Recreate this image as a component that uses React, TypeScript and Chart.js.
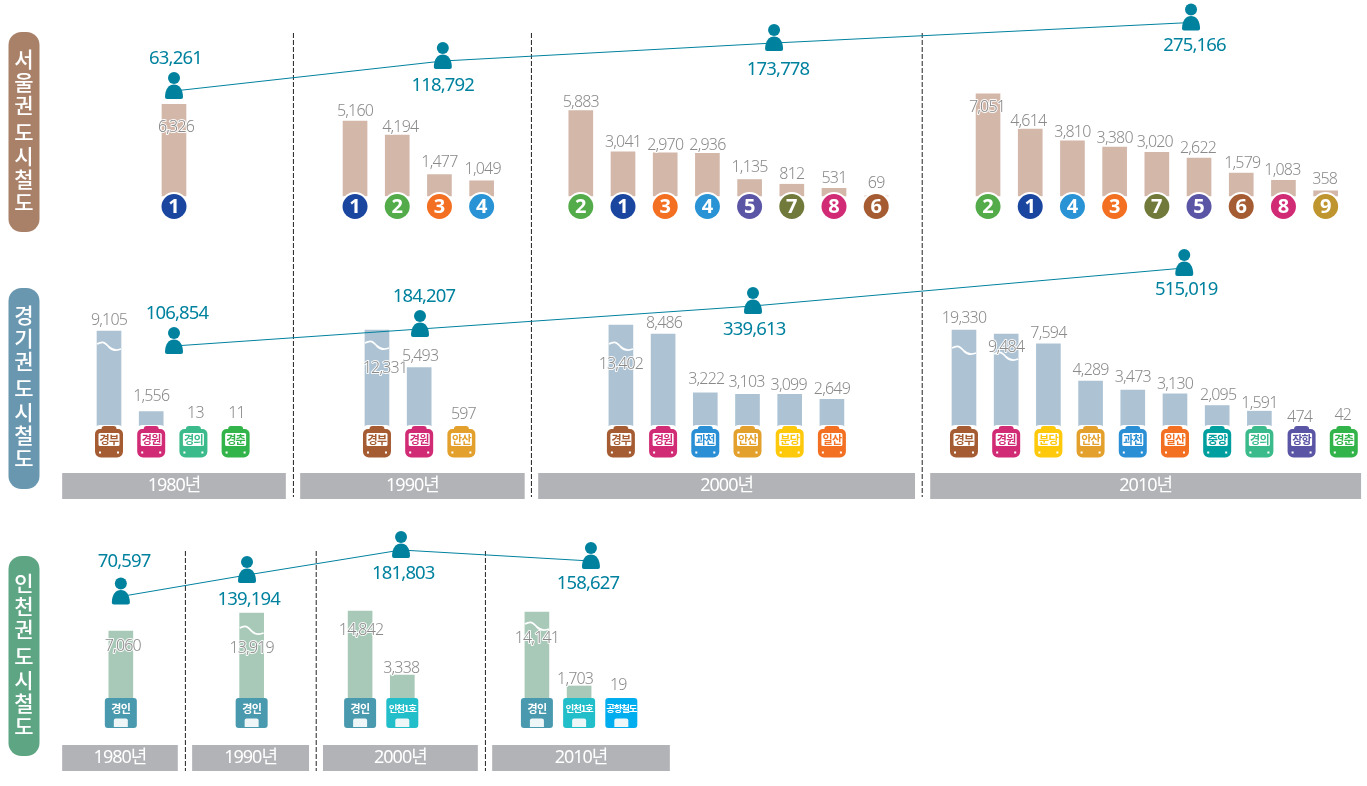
import React, { useEffect, useRef } from "react";
import { Chart, registerables } from "chart.js";

Chart.register(...registerables);

// ---------- data ----------
const seoulStops = ["1", "1", "2", "3", "4", "2", "1", "3", "4", "5", "7", "8", "6", "2", "1", "4", "3", "7", "5", "6", "8", "9"];
const seoulDecades = [0, 1, 1, 1, 1, 2, 2, 2, 2, 2, 2, 2, 2, 3, 3, 3, 3, 3, 3, 3, 3, 3];
const seoulValues = [6326, 5160, 4194, 1477, 1049, 5883, 3041, 2970, 2936, 1135, 812, 531, 69, 7051, 4614, 3810, 3380, 3020, 2622, 1579, 1083, 358];
// Height actually drawn: in the picture the smallest bar is hidden behind its marker
const seoulDrawn = [6326, 5160, 4194, 1477, 1049, 5883, 3041, 2970, 2936, 1135, 812, 531, 0, 7051, 4614, 3810, 3380, 3020, 2622, 1579, 1083, 358];

const gyeonggiStops = ["경부", "경원", "경의", "경춘", "경부", "경원", "안산", "경부", "경원", "과천", "안산", "분당", "일산", "경부", "경원", "분당", "안산", "과천", "일산", "중앙", "경의", "장항", "경춘"];
const gyeonggiDecades = [0, 0, 0, 0, 1, 1, 1, 2, 2, 2, 2, 2, 2, 3, 3, 3, 3, 3, 3, 3, 3, 3, 3];
const gyeonggiValues = [9105, 1556, 13, 11, 12331, 5493, 597, 13402, 8486, 3222, 3103, 3099, 2649, 19330, 9484, 7594, 4289, 3473, 3130, 2095, 1591, 474, 42];
// Height actually drawn: the tall bars are cut by a wave in the picture, small ones hidden
const gyeonggiDrawn = [8750, 1556, 0, 0, 8840, 5493, 0, 9286, 8486, 3222, 3103, 3099, 2649, 8840, 8482, 7594, 4289, 3473, 3130, 2095, 1591, 0, 0];

const incheonStops = ["경인", "경인", "경인", "인천1호", "경인", "인천1호", "공항철도"];
const incheonDecades = [0, 1, 2, 2, 3, 3, 3];
const incheonValues = [7060, 13919, 14842, 3338, 14141, 1703, 19];
const incheonDrawn = [7060, 8600, 8770, 3338, 8686, 2415, 19];

const seoulRiders = [63261, 118792, 173778, 275166];
const gyeonggiRiders = [106854, 184207, 339613, 515019];
const incheonRiders = [70597, 139194, 181803, 158627];
// Drawn heights of the rider trend
const seoulTrendLevels = [695, 725, 743, 763.5];
const gyeonggiTrendLevels = [440, 457, 480, 518];
const incheonTrendLevels = [189.5, 211, 236, 225];

const decadeLabels = ["1980년", "1990년", "2000년", "2010년"];
const rowTitles = ["서울권 도시철도", "경기권 도시철도", "인천권 도시철도"];

// ---------- layout and style ----------
const W = 1367;
const H = 786;
const SLOT_PX = 42.2;
const ORIGIN_PX = 174;
const seoulStarts = [0, 4.29, 9.64, 19.29];
const gyeonggiStarts = [-1.54, 4.81, 10.59, 18.72];
const incheonStarts = [-1.26, 1.84, 4.41, 8.6];
const seoulTrendX = [0, 6.37, 14.22, 24.1];
const gyeonggiTrendX = [0, 5.83, 13.72, 23.94];
const incheonTrendX = [-1.26, 1.73, 5.38, 9.88];
const upperDividers = [2.83, 8.47, 17.73];
const lowerDividers = [0.27, 3.37, 7.38];
const upperBands = [[-2.65, 2.65], [2.99, 8.31], [8.63, 17.56], [17.92, 28.13]];
const lowerBands = [[-2.65, 0.09], [0.43, 3.2], [3.53, 7.2], [7.54, 11.75]];

const seoulDx = [2, 0, 3, 0, 1, 0, 0, 0, 0, 0, 0, 0, 0, -1, -2, 0, 0, -2, -1, 1, -1, -1];
const seoulDy = [23, -9.5, -8, -12.5, -11, -8, -9.5, -7.5, -8, -12, -10, -10, -13, 14, -8, -8, -8.7, -10, -10, -9.5, -9.5, -11.5];
const gyeonggiDx = [0, 0, 2, 1, 8, 1, 2, 0, 1, 1, -1, -1, 0, 0, 0, 0, 0, 0, 0, 1, 0, -2, -1];
const gyeonggiDy = [-11, -15, -16, -16, 38, -11.5, -15, 39, -11, -13, -11.5, -9, -10, -12, 13, -11, -11, -13, -10, -10.5, -8, -12, -14];
const incheonDx = [2, 0, 1, -1, 0, -4, -3];
const incheonDy = [15, 35, 19, -7, 26, -7, -29];

const gyeonggiWaves: Record<number, number> = { 0: 12, 4: 12, 7: 18, 13: 17, 14: 19 };
const incheonWaves: Record<number, number> = { 1: 14, 4: 11 };

const riderDx = [[1.5, 0, 4, 3.5], [3, 4, 1.3, 2], [3.3, 1.7, 2.3, -3]];
const riderDy = [[-26, 31, 33, 29.5], [-26, -26, 30, 28], [-28, 31, 30, 29]];

const lineColors: Record<string, string> = {
  "1": "#1a46a0", "2": "#53ab4a", "3": "#f36f21", "4": "#2a93d5", "5": "#5b55a5",
  "6": "#a55c32", "7": "#717a3a", "8": "#d12b75", "9": "#bf9530",
  경부: "#a55c32", 경원: "#d12b75", 경의: "#3bbb8c", 경춘: "#33b44a", 안산: "#e3a02d",
  과천: "#2a8fd5", 분당: "#ffc90b", 일산: "#f36f21", 중앙: "#009f9f", 장항: "#5b55a5",
  경인: "#4a9aaf", 인천1호: "#22bfcb", 공항철도: "#00aeef",
};
const TEAL = "#00829f";
const LABEL_GREY = "#8a8a8a";
const BAND = "#b2b3b7";
const pillColors = ["#a98068", "#6a97b0", "#5ea583"];
const pillBoxes = [[32, 232], [288, 489], [556, 756]];
const titleOffsets = [-73, -50, -27, 0, 24, 47, 70];
const LATIN = '"Noto Sans", "Noto Sans CJK KR", sans-serif';
const KOREAN = '"Noto Sans CJK KR", "Noto Sans", sans-serif';

function slotsOf(decades: number[], starts: number[]) {
  const used = [0, 0, 0, 0];
  return decades.map((d) => starts[d] + used[d]++);
}

function points(xs: number[], ys: number[]) {
  return xs.map((x, i) => ({ x, y: ys[i] }));
}

function yRange(base: number, slope: number) {
  return { type: "linear" as const, display: false, min: (base - H) / slope, max: base / slope };
}

function roundBox(c: CanvasRenderingContext2D, x: number, y: number, w: number, h: number, r: number | number[]) {
  c.beginPath();
  c.roundRect(x, y, w, h, r);
  c.fill();
}

function text(c: CanvasRenderingContext2D, s: string, x: number, y: number, font: string, color: string, spacing = 0, halo = 0) {
  c.font = font;
  (c as any).letterSpacing = `${spacing}px`;
  c.textAlign = "center";
  c.textBaseline = "middle";
  if (halo > 0) {
    c.strokeStyle = "rgba(255,255,255,0.9)";
    c.lineWidth = halo;
    c.lineJoin = "round";
    c.strokeText(s, x, y);
  }
  c.fillStyle = color;
  c.fillText(s, x, y);
  (c as any).letterSpacing = "0px";
}

function drawPerson(c: CanvasRenderingContext2D, x: number, y: number) {
  c.fillStyle = TEAL;
  c.beginPath();
  c.arc(x, y - 13, 6, 0, Math.PI * 2);
  c.fill();
  c.beginPath();
  c.moveTo(x - 9, y + 6);
  c.bezierCurveTo(x - 9, y - 2, x - 5, y - 6.5, x, y - 6.5);
  c.bezierCurveTo(x + 5, y - 6.5, x + 9, y - 2, x + 9, y + 6);
  c.quadraticCurveTo(x + 9, y + 8, x + 7, y + 8);
  c.lineTo(x - 7, y + 8);
  c.quadraticCurveTo(x - 9, y + 8, x - 9, y + 6);
  c.fill();
}

function drawTrain(c: CanvasRenderingContext2D, x: number, top: number, name: string) {
  const col = lineColors[name];
  c.fillStyle = "#fff";
  roundBox(c, x - 15, top - 1, 30, 33.5, 6);
  c.fillStyle = col;
  roundBox(c, x - 7.5, top, 15, 8, [3, 3, 0, 0]);
  roundBox(c, x - 14, top + 3, 28, 28.5, [5, 5, 6, 6]);
  c.fillStyle = "#fff";
  roundBox(c, x - 10.5, top + 7, 21, 13, 1.5);
  c.fillRect(x - 10, top + 25.5, 2, 2);
  c.fillRect(x + 8, top + 25.5, 2, 2);
  text(c, name, x, top + 13.5, `700 11px ${KOREAN}`, col, -0.7);
}

function drawTag(c: CanvasRenderingContext2D, x: number, top: number, name: string) {
  c.fillStyle = lineColors[name];
  roundBox(c, x - 16, top, 32, 30, 3);
  const size = name.length > 3 ? 9.5 : name.length > 2 ? 10.5 : 11;
  const spacing = name.length > 3 ? -1.2 : name.length > 2 ? -1 : -0.6;
  text(c, name, x, top + 10.5, `700 ${size}px ${KOREAN}`, "#fff", spacing);
  c.fillStyle = "#eef6f8";
  roundBox(c, x - 7, top + 20.5, 14, 8.5, [2, 2, 0, 0]);
}

function drawWave(c: CanvasRenderingContext2D, x: number, y: number) {
  c.strokeStyle = "#fff";
  c.lineWidth = 1.8;
  c.beginPath();
  c.moveTo(x - 12, y + 1);
  c.bezierCurveTo(x - 5, y - 3, x - 3, y + 1, x, y + 4);
  c.bezierCurveTo(x + 3, y + 7, x + 7, y + 8, x + 12, y + 6);
  c.stroke();
}

export default function App() {
  const ref = useRef<HTMLCanvasElement>(null);

  useEffect(() => {
    document.body.style.margin = "0";
    const bars = (data: any[], color: string, yAxisID: string) => ({
      type: "bar" as const, data, yAxisID, xAxisID: "x", backgroundColor: color,
      barThickness: 24, grouped: false, order: 2,
    });
    const trend = (xs: number[], ys: number[]) => ({
      type: "line" as const, data: points(xs, ys), yAxisID: "yFrame", xAxisID: "x",
      borderColor: TEAL, borderWidth: 1, pointRadius: 0, fill: false, tension: 0, order: 1,
    });
    const divider = (x: number, top: number, bottom: number) => ({
      type: "line" as const, data: [{ x, y: top }, { x, y: bottom }], yAxisID: "yFrame", xAxisID: "x",
      borderColor: "#222", borderWidth: 1, borderDash: [5, 2], pointRadius: 0, fill: false, order: 3,
    });

    const seoulX = slotsOf(seoulDecades, seoulStarts);
    const gyeonggiX = slotsOf(gyeonggiDecades, gyeonggiStarts);
    const incheonX = slotsOf(incheonDecades, incheonStarts);

    const overlay = {
      id: "infographic",
      afterDatasetsDraw(chart: any) {
        const c: CanvasRenderingContext2D = chart.ctx;
        const xs = chart.scales.x;
        const yF = chart.scales.yFrame;
        c.save();

        // region pills
        rowTitles.forEach((title, r) => {
          const [top, bottom] = pillBoxes[r];
          c.fillStyle = pillColors[r];
          roundBox(c, 8.5, top, 31, bottom - top, 13);
          const mid = (top + bottom) / 2;
          const chars = Array.from(title).filter((ch) => ch !== " ");
          chars.forEach((ch, i) => text(c, ch, 24, mid + titleOffsets[i], `500 21px ${KOREAN}`, "#fff"));
        });

        // decade bands
        const band = (edges: number[][], top: number, bottom: number) => {
          edges.forEach(([a, b], i) => {
            const l = xs.getPixelForValue(a);
            const r = xs.getPixelForValue(b);
            const t = yF.getPixelForValue(top);
            const h = yF.getPixelForValue(bottom) - t;
            c.fillStyle = BAND;
            c.fillRect(l, t, r - l, h);
            text(c, decadeLabels[i], (l + r) / 2, t + h / 2, `400 18px ${LATIN}`, "#fff", -1);
          });
        };
        band(upperBands, 313, 287);
        band(lowerBands, 41, 15);

        // bar extras
        const rowExtras = (ds: number, values: number[], stops: string[], dx: number[], dy: number[], waves: Record<number, number>, kind: string, yId: string) => {
          const meta = chart.getDatasetMeta(ds);
          const base = chart.scales[yId].getPixelForValue(0);
          meta.data.forEach((bar: any, i: number) => {
            if (waves[i]) drawWave(c, bar.x, bar.y + waves[i]);
          });
          meta.data.forEach((bar: any, i: number) => {
            text(c, values[i].toLocaleString("en-US"), bar.x + dx[i], bar.y + dy[i], `300 16px ${LATIN}`, LABEL_GREY, -0.8, 2);
          });
          meta.data.forEach((bar: any, i: number) => {
            if (kind === "circle") {
              c.fillStyle = "#fff";
              c.beginPath();
              c.arc(bar.x, base + 10.5, 14.5, 0, Math.PI * 2);
              c.fill();
              c.fillStyle = lineColors[stops[i]];
              c.beginPath();
              c.arc(bar.x, base + 10.5, 12.5, 0, Math.PI * 2);
              c.fill();
              text(c, stops[i], bar.x, base + 11, `700 20px ${LATIN}`, "#fff");
            } else if (kind === "train") {
              drawTrain(c, bar.x, base - 3, stops[i]);
            } else {
              drawTag(c, bar.x, base - 16.5, stops[i]);
            }
          });
        };
        rowExtras(0, seoulValues, seoulStops, seoulDx, seoulDy, {}, "circle", "ySeoul");
        rowExtras(1, gyeonggiValues, gyeonggiStops, gyeonggiDx, gyeonggiDy, gyeonggiWaves, "train", "yGyeonggi");
        rowExtras(2, incheonValues, incheonStops, incheonDx, incheonDy, incheonWaves, "tag", "yIncheon");

        // riders
        [seoulRiders, gyeonggiRiders, incheonRiders].forEach((riders, r) => {
          const meta = chart.getDatasetMeta(3 + r);
          meta.data.forEach((pt: any, i: number) => {
            drawPerson(c, pt.x, pt.y);
            text(c, riders[i].toLocaleString("en-US"), pt.x + riderDx[r][i], pt.y + riderDy[r][i] - 6.5, `400 18.5px ${LATIN}`, TEAL, -0.85);
          });
        });
        c.restore();
      },
    };

    const chart = new Chart(ref.current!, {
      type: "bar",
      data: {
        datasets: [
          bars(points(seoulX, seoulDrawn), "#d3b7a9", "ySeoul"),
          bars(points(gyeonggiX, gyeonggiDrawn), "#adc3d4", "yGyeonggi"),
          bars(points(incheonX, incheonDrawn), "#a8c9b7", "yIncheon"),
          trend(seoulTrendX, seoulTrendLevels),
          trend(gyeonggiTrendX, gyeonggiTrendLevels),
          trend(incheonTrendX, incheonTrendLevels),
          ...upperDividers.map((x) => divider(x, 753, 289)),
          ...lowerDividers.map((x) => divider(x, 235, 15)),
        ] as any,
      },
      options: {
        animation: false,
        responsive: false,
        events: [],
        devicePixelRatio: 1,
        layout: { padding: 0 },
        plugins: { legend: { display: false }, tooltip: { enabled: false } },
        scales: {
          x: { type: "linear", display: false, offset: false, min: -ORIGIN_PX / SLOT_PX, max: (W - ORIGIN_PX) / SLOT_PX },
          ySeoul: yRange(196, 0.0145),
          yGyeonggi: yRange(429, 0.0112),
          yIncheon: yRange(714.5, 0.0118),
          yFrame: { type: "linear", display: false, min: 0, max: H },
        },
      },
      plugins: [overlay],
    } as any);
    return () => chart.destroy();
  }, []);

  return (
    <div style={{ position: "absolute", left: 0, top: 0, width: W, height: H, background: "#fff" }}>
      <canvas ref={ref} width={W} height={H} style={{ display: "block", width: W, height: H }} />
    </div>
  );
}
